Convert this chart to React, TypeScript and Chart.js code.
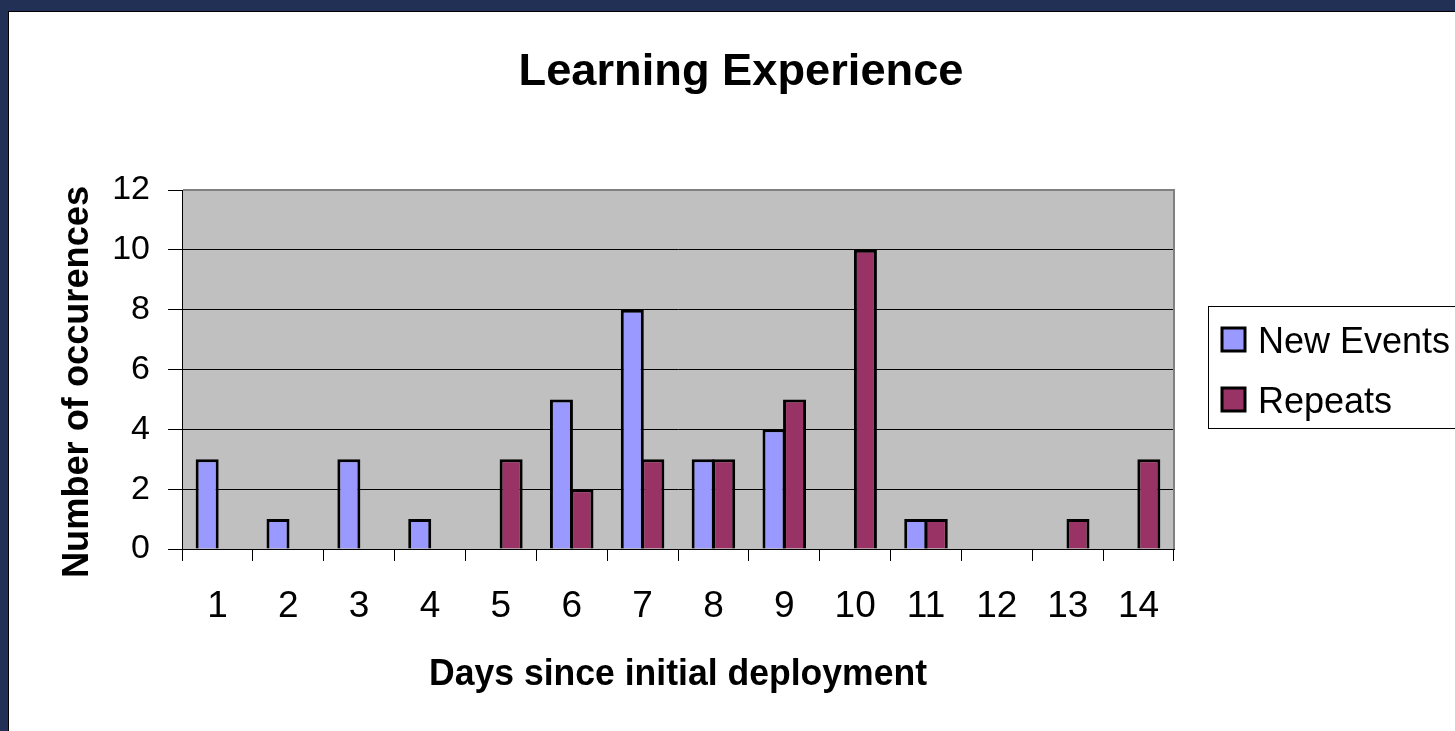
import React, { useEffect, useRef } from "react";
import { Chart, registerables } from "chart.js";

Chart.register(...registerables);

const categories = ["1", "2", "3", "4", "5", "6", "7", "8", "9", "10", "11", "12", "13", "14"];
const newEvents = [3, 1, 3, 1, 0, 5, 8, 3, 4, 0, 1, 0, 0, 0];
const repeats = [0, 0, 0, 0, 3, 2, 3, 3, 5, 10, 1, 0, 1, 3];
const seriesNames = ["New Events", "Repeats"];
const seriesColors = ["#9999FF", "#993366"];
const yMin = 0;
const yMax = 12;
const yStep = 2;
const chartTitle = "Learning Experience";
const xAxisTitle = "Days since initial deployment";
const yAxisTitle = "Number of occurences";

const FONT = '"Liberation Sans", Arial, Helvetica, sans-serif';

function drawStretched(
  ctx: CanvasRenderingContext2D,
  text: string,
  font: string,
  x: number,
  y: number,
  targetLen: number,
  rotation: number
) {
  ctx.save();
  ctx.font = font;
  ctx.fillStyle = "#000";
  ctx.textAlign = "center";
  ctx.textBaseline = "alphabetic";
  const w = ctx.measureText(text).width;
  ctx.translate(x, y);
  ctx.rotate(rotation);
  ctx.scale(targetLen / w, 1);
  ctx.fillText(text, 0, 0);
  ctx.restore();
}

const decorPlugin = {
  id: "decor",
  beforeDraw(chart: any) {
    const { ctx, chartArea: a } = chart;
    ctx.save();
    ctx.fillStyle = "#FFFFFF";
    ctx.fillRect(0, 0, chart.width, chart.height);
    ctx.fillStyle = "#C0C0C0";
    ctx.fillRect(a.left, a.top, a.right - a.left, a.bottom - a.top);
    ctx.restore();
  },
  beforeDatasetsDraw(chart: any) {
    const { ctx, chartArea: a } = chart;
    ctx.save();
    ctx.strokeStyle = "#808080";
    ctx.lineWidth = 2;
    ctx.beginPath();
    ctx.moveTo(a.left + 1, a.top);
    ctx.lineTo(a.right, a.top);
    ctx.lineTo(a.right, a.bottom);
    ctx.stroke();
    ctx.restore();
  },
  afterDraw(chart: any) {
    const { ctx, chartArea: a } = chart;
    const cx = (a.left + a.right) / 2;
    // titles
    drawStretched(ctx, chartTitle, `bold 45px ${FONT}`, 732, 73, 445, 0);
    drawStretched(ctx, xAxisTitle, `bold 36px ${FONT}`, cx, 673, 498, 0);
    drawStretched(ctx, yAxisTitle, `bold 36px ${FONT}`, 79, 370, 392, -Math.PI / 2);

    // legend
    ctx.save();
    ctx.strokeStyle = "#000";
    ctx.lineWidth = 1;
    ctx.strokeRect(1199.5, 294.5, 400, 122);
    const rows = [341, 401];
    chart.data.datasets.forEach((ds: any, i: number) => {
      const base = rows[i];
      const sy = base - 25;
      ctx.fillStyle = ds.backgroundColor;
      ctx.fillRect(1213, sy, 23, 23);
      ctx.lineWidth = 3;
      ctx.strokeStyle = "#000";
      ctx.strokeRect(1213, sy, 23, 23);
      ctx.fillStyle = "#000";
      ctx.font = `36px ${FONT}`;
      ctx.textAlign = "left";
      ctx.textBaseline = "alphabetic";
      ctx.fillText(ds.label, 1249, base);
    });
    ctx.restore();
  },
};

export default function App() {
  const canvasRef = useRef<HTMLCanvasElement | null>(null);

  useEffect(() => {
    const canvas = canvasRef.current;
    if (!canvas) return;
    const chart = new Chart(canvas, {
      type: "bar",
      data: {
        labels: categories,
        datasets: [
          {
            label: seriesNames[0],
            data: newEvents,
            backgroundColor: seriesColors[0],
            borderColor: "#000000",
            borderWidth: 3,
            borderSkipped: "bottom",
            categoryPercentage: 0.58,
            barPercentage: 1.12,
          },
          {
            label: seriesNames[1],
            data: repeats,
            backgroundColor: seriesColors[1],
            borderColor: "#000000",
            borderWidth: 3,
            borderSkipped: "bottom",
            categoryPercentage: 0.58,
            barPercentage: 1.12,
          },
        ],
      },
      options: {
        responsive: false,
        animation: false,
        devicePixelRatio: 1,
        layout: { padding: { left: 0, right: 281, top: 178, bottom: 0 } },
        plugins: {
          legend: { display: false },
          title: { display: false },
          tooltip: { enabled: false },
        },
        scales: {
          x: {
            afterFit(scale: any) {
              scale.height = 182;
            },
            grid: {
              offset: true,
              drawOnChartArea: false,
              drawTicks: true,
              tickLength: 12,
              color: "#000000",
              lineWidth: 1,
            },
            border: { display: true, color: "#000000", width: 1 },
            ticks: {
              color: "#000000",
              font: { family: FONT, size: 37 },
              padding: 24,
              autoSkip: false,
              maxRotation: 0,
              minRotation: 0,
            },
          },
          y: {
            min: yMin,
            max: yMax,
            afterFit(scale: any) {
              scale.width = 173;
            },
            grid: {
              color: "#000000",
              lineWidth: 1,
              tickLength: 14,
              drawTicks: true,
            },
            border: { display: true, color: "#000000", width: 1 },
            ticks: {
              stepSize: yStep,
              color: "#000000",
              font: { family: FONT, size: 34 },
              padding: 18,
            },
          },
        },
      },
      plugins: [decorPlugin],
    } as any);
    return () => chart.destroy();
  }, []);

  return (
    <div style={{ position: "fixed", inset: 0, background: "#213054", overflow: "hidden" }}>
      <div
        style={{
          position: "absolute",
          left: 8,
          top: 11,
          width: 1447,
          height: 720,
          boxSizing: "border-box",
          borderTop: "1px solid #000",
          borderLeft: "1px solid #000",
          background: "#FFFFFF",
        }}
      >
        <canvas ref={canvasRef} width={1446} height={719} style={{ display: "block", width: 1446, height: 719 }} />
      </div>
    </div>
  );
}
